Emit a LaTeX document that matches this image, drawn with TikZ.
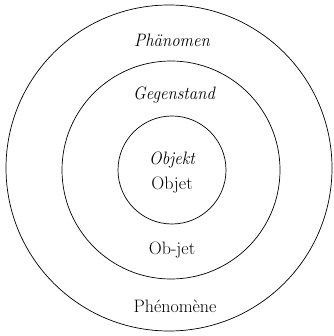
\documentclass[tikz,border=0pt]{standalone}
\usepackage{tikz}

\begin{document}
\begin{tikzpicture}[x=1pt, y=-1pt, font=\fontsize{18}{20}\selectfont]
  \useasboundingbox (0,0) rectangle (333,336);
  % three rings, outer to inner
  \draw[line width=0.7pt] (169,168) circle (163);
  \draw[line width=0.7pt] (171,170) circle (109);
  \draw[line width=0.7pt] (172,170) circle (54);
  % German terms (italic)
  \node[xscale=0.93] (phaenomen) at (172,40) {\itshape Phänomen};
  \node[xscale=0.93] (gegenstand) at (174,95) {\itshape Gegenstand};
  \node[xscale=0.93] (objekt) at (172,160) {\itshape Objekt};
  % French terms
  \node (objet) at (172,185) {Objet};
  \node (obJet) at (172,250) {Ob-jet};
  \node (phenomene) at (175,306) {Phénomène};
\end{tikzpicture}
\end{document}
